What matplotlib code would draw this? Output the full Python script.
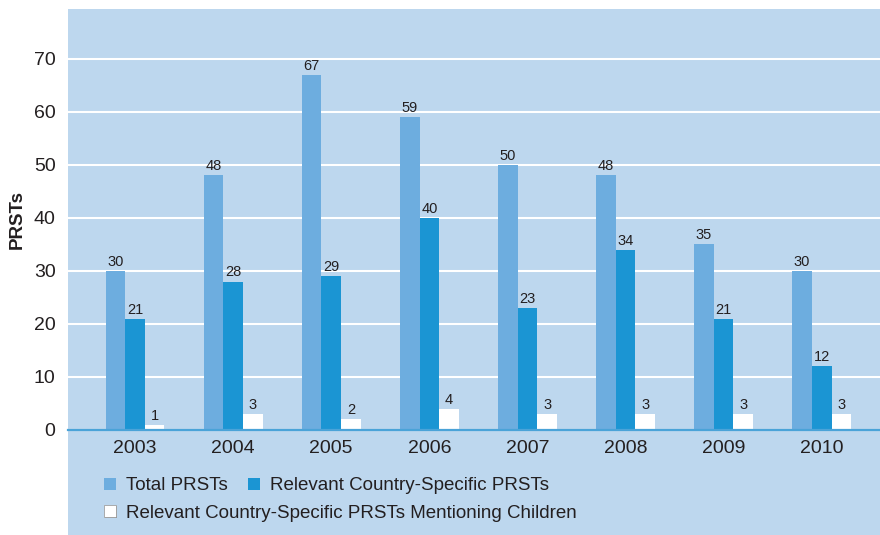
import matplotlib
matplotlib.use("Agg")
import matplotlib.pyplot as plt
import numpy as np
from matplotlib.patches import Patch, Rectangle
import matplotlib.patheffects as pe

plt.rcParams['font.family'] = ['Liberation Sans', 'DejaVu Sans']

years = ['2003', '2004', '2005', '2006', '2007', '2008', '2009', '2010']
total_prsts = [30, 48, 67, 59, 50, 48, 35, 30]
relevant_prsts = [21, 28, 29, 40, 23, 34, 21, 12]
children_prsts = [1, 3, 2, 4, 3, 3, 3, 3]
series_names = ['Total PRSTs', 'Relevant Country-Specific PRSTs',
                'Relevant Country-Specific PRSTs Mentioning Children']

BG = '#bdd7ee'
C_LIGHT = '#6daddf'
C_DARK = '#1b95d3'
C_WHITE = '#ffffff'
TXT = '#231f20'

W, H = 880, 535
fig = plt.figure(figsize=(W / 100, H / 100), dpi=100)
fig.patch.set_facecolor('white')
fig.patches.append(Rectangle((68 / W, 0), 1 - 68 / W, (H - 9) / H,
                             transform=fig.transFigure, facecolor=BG,
                             edgecolor='none', zorder=-5))

ax = fig.add_axes([68 / W, (H - 430) / H, 1 - 68 / W, (430 - 9) / H])
ax.set_zorder(1)
ax.set_facecolor(BG)

x = np.arange(len(years))
bw = 0.2
b1 = ax.bar(x - bw, total_prsts, bw, color=C_LIGHT, zorder=3, label=series_names[0])
b2 = ax.bar(x, relevant_prsts, bw, color=C_DARK, zorder=3, label=series_names[1])
b3 = ax.bar(x + bw, children_prsts, bw, color=C_WHITE, zorder=3, label=series_names[2])
for b in (b1, b2, b3):
    ax.bar_label(b, padding=1.5, fontsize=10.5, color=TXT)

ax.set_xlim(-0.683, 7.594)
ax.set_ylim(0, 79.4)
ax.set_yticks(range(0, 71, 10))
ax.set_xticks(x)
ax.set_xticklabels(years)
ax.tick_params(axis='both', length=0, labelsize=14, colors=TXT)
ax.tick_params(axis='x', pad=7)
ax.tick_params(axis='y', pad=9)
ax.grid(axis='y', color='white', linewidth=1.5, zorder=1)
ax.set_axisbelow(True)
for s in ['top', 'right', 'left']:
    ax.spines[s].set_visible(False)
ax.spines['bottom'].set_color('#4aa3d8')
ax.spines['bottom'].set_linewidth(1.6)
ax.spines['bottom'].set_zorder(4)
ax.set_ylabel('PRSTs', fontsize=13.5, fontweight='bold', color=TXT, labelpad=6)

h1 = Patch(facecolor=C_LIGHT, edgecolor='none', label=series_names[0])
h2 = Patch(facecolor=C_DARK, edgecolor='none', label=series_names[1])
h3 = Patch(facecolor=C_WHITE, edgecolor='#a0a0a0', linewidth=0.6, label=series_names[2],
           path_effects=[pe.SimplePatchShadow(offset=(0.8, -0.8), shadow_rgbFace='#555555', alpha=0.9),
                         pe.Normal()])

common = dict(frameon=False, fontsize=13.5, handlelength=0.65, handleheight=0.65,
              handletextpad=0.5, borderaxespad=0, borderpad=0, labelcolor=TXT)
leg1 = fig.legend(handles=[h1, h2], ncol=2, loc='center left',
                  bbox_to_anchor=(104 / W, 1 - 486 / H), columnspacing=1.1, **common)
leg2 = fig.legend(handles=[h3], ncol=1, loc='center left',
                  bbox_to_anchor=(104 / W, 1 - 513 / H), **common)
leg1.set_zorder(5)
leg2.set_zorder(5)

fig.savefig('out.png', dpi=100, facecolor=fig.get_facecolor())
